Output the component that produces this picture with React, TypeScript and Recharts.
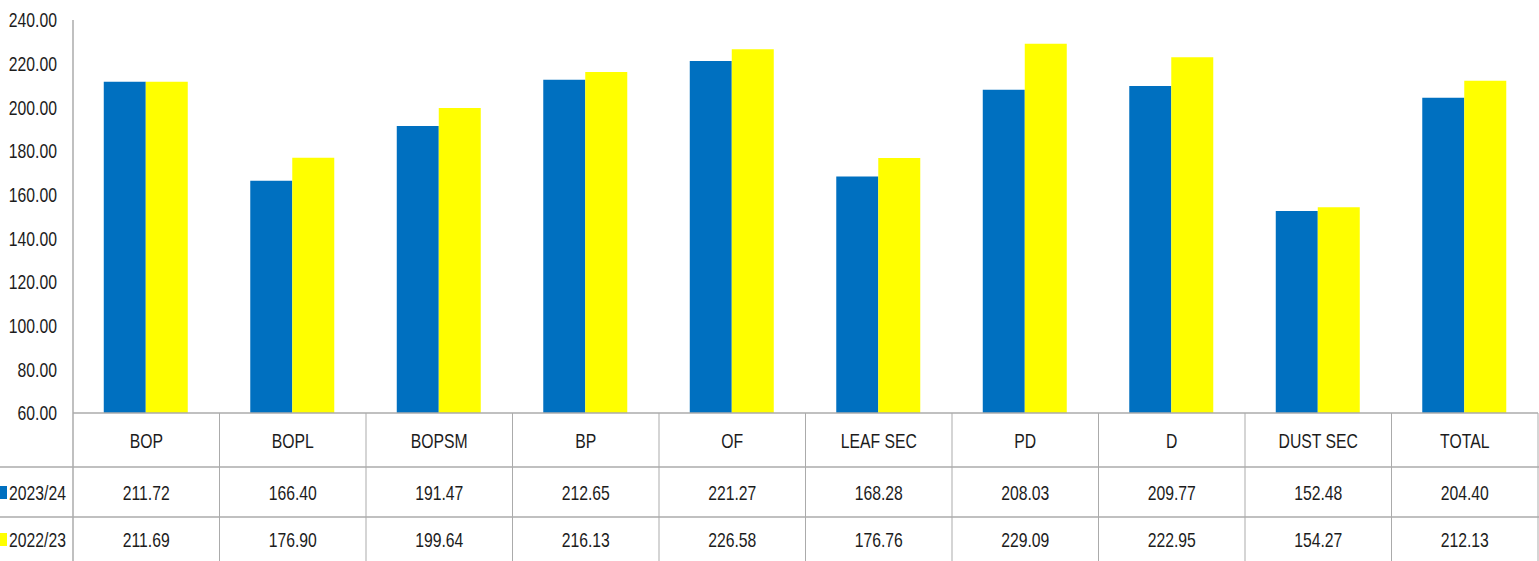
import { BarChart, Bar, XAxis, YAxis } from 'recharts'

// Bar chart with an Excel-style data table under the category axis.

const CATEGORIES = ['BOP', 'BOPL', 'BOPSM', 'BP', 'OF', 'LEAF SEC', 'PD', 'D', 'DUST SEC', 'TOTAL']
const Y2023_24 = [211.72, 166.4, 191.47, 212.65, 221.27, 168.28, 208.03, 209.77, 152.48, 204.4]
const Y2022_23 = [211.69, 176.9, 199.64, 216.13, 226.58, 176.76, 229.09, 222.95, 154.27, 212.13]
const Y_TICKS = [60, 80, 100, 120, 140, 160, 180, 200, 220, 240]
const SERIES = [
  { key: 'cur', label: '2023/24', color: '#0070C0', values: Y2023_24 },
  { key: 'prev', label: '2022/23', color: '#FFFF00', values: Y2022_23 },
]

const W = 1539
const H = 561
const Y_W = 73
const RIGHT = 1
const TABLE_H = 148
const BAND = (W - Y_W - RIGHT) / CATEGORIES.length
const LINE = '#ababab'
const INK = '#1c1c1c'
const FONT = "'Liberation Sans', Arial, sans-serif"
const SQUEEZE = 0.75 // stand-in for the narrow Calibri look

const data = CATEGORIES.map((name, i) => ({ name, cur: Y2023_24[i], prev: Y2022_23[i] }))

function Narrow({ x, y, anchor = 'middle', children }: any) {
  return (
    <text
      transform={`translate(${x},${y}) scale(${SQUEEZE},1)`}
      textAnchor={anchor}
      dominantBaseline="central"
      fontFamily={FONT}
      fontSize={21}
      fill={INK}
    >
      {children}
    </text>
  )
}

function YTick({ x, y, payload }: any) {
  return (
    <Narrow x={x} y={y} anchor="end">
      {Number(payload.value).toFixed(2)}
    </Narrow>
  )
}

function TableTick({ x, y, payload }: any) {
  const i = payload.index
  const left = x - BAND / 2
  const right = x + BAND / 2
  return (
    <g>
      {i === 0 && (
        <g>
          <line x1={left} y1={y} x2={left} y2={H} stroke={LINE} strokeWidth={1.5} />
          <line x1={0} y1={y + 54} x2={W} y2={y + 54} stroke={LINE} strokeWidth={1.5} />
          <line x1={0} y1={y + 104} x2={W} y2={y + 104} stroke={LINE} strokeWidth={1.5} />
          {SERIES.map((s, r) => (
            <g key={s.key}>
              <rect x={0} y={y + 73 + r * 47} width={7} height={13} fill={s.color} />
              <Narrow x={9} y={y + 80 + r * 47} anchor="start">
                {s.label}
              </Narrow>
            </g>
          ))}
        </g>
      )}
      <line x1={right} y1={y} x2={right} y2={H} stroke={LINE} />
      <Narrow x={x} y={y + 28}>
        {payload.value}
      </Narrow>
      {SERIES.map((s, r) => (
        <Narrow key={s.key} x={x} y={y + 80 + r * 47}>
          {s.values[i].toFixed(2)}
        </Narrow>
      ))}
    </g>
  )
}

export default function App() {
  return (
    <div style={{ position: 'absolute', left: 0, top: 0, background: '#fff' }}>
      <BarChart
        width={W}
        height={H}
        data={data}
        margin={{ top: 20, right: RIGHT, left: 0, bottom: 0 }}
        barCategoryGap="21%"
        barGap={0}
      >
        <XAxis
          dataKey="name"
          height={TABLE_H}
          tickLine={false}
          tickSize={0}
          tickMargin={0}
          axisLine={{ stroke: LINE, strokeWidth: 1.5 }}
          interval={0}
          tick={<TableTick />}
        />
        <YAxis
          width={Y_W}
          domain={[60, 240]}
          ticks={Y_TICKS}
          tickLine={false}
          tickSize={0}
          tickMargin={16}
          axisLine={{ stroke: LINE, strokeWidth: 1.5 }}
          tick={<YTick />}
          interval={0}
        />
        {SERIES.map((s) => (
          <Bar key={s.key} dataKey={s.key} fill={s.color} isAnimationActive={false} />
        ))}
      </BarChart>
    </div>
  )
}
